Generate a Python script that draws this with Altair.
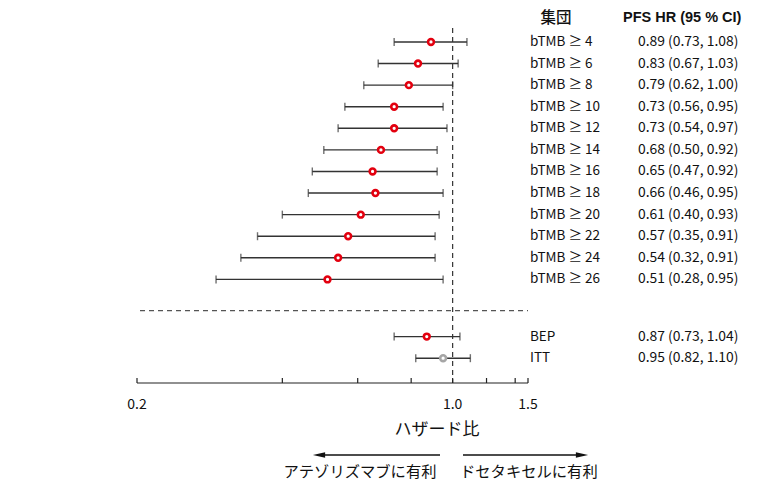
import altair as alt
import pandas as pd

groups = ["bTMB ≥ 4", "bTMB ≥ 6", "bTMB ≥ 8", "bTMB ≥ 10", "bTMB ≥ 12", "bTMB ≥ 14",
          "bTMB ≥ 16", "bTMB ≥ 18", "bTMB ≥ 20", "bTMB ≥ 22", "bTMB ≥ 24", "bTMB ≥ 26",
          "BEP", "ITT"]
hr = [0.89, 0.83, 0.79, 0.73, 0.73, 0.68, 0.65, 0.66, 0.61, 0.57, 0.54, 0.51, 0.87, 0.95]
lo = [0.73, 0.67, 0.62, 0.56, 0.54, 0.50, 0.47, 0.46, 0.40, 0.35, 0.32, 0.28, 0.73, 0.82]
hi = [1.08, 1.03, 1.00, 0.95, 0.97, 0.92, 0.92, 0.95, 0.93, 0.91, 0.91, 0.95, 1.04, 1.10]
kind = ["bTMB"] * 12 + ["BEP", "ITT"]
x_min, x_max = 0.183, 1.5
tick_values = [x_min, 0.4, 0.6, 0.8, 1.0, 1.2, 1.4, 1.5]
tick_labels = ["0.2", "", "", "", "1.0", "", "", "1.5"]

W, H = 391, 378
PAD_L, PAD_T = 137, 5
FONT = "Noto Sans CJK JP"

# row positions: bTMB rows consecutive, then a gap before BEP / ITT
rows = []
for i, g in enumerate(groups):
    pos = i if i < 12 else i + 1.65
    rows.append(dict(group=g, hr=hr[i], lo=lo[i], hi=hi[i], kind=kind[i], pos=pos,
                     label=f"{hr[i]:.2f} ({lo[i]:.2f}, {hi[i]:.2f})"))
df = pd.DataFrame(rows)

xscale = alt.Scale(type="log", domain=[x_min, x_max], nice=False, zero=False)
yscale = alt.Scale(domain=[-1.713, 15.8], reverse=True, nice=False, zero=False)
X = lambda f: alt.X(f, type="quantitative", scale=xscale, axis=None)
Y = alt.Y("pos:Q", scale=yscale, axis=None)

base = alt.Chart(df)

ci = base.mark_rule(color="#333333", strokeWidth=1.4).encode(x=X("lo"), x2="hi", y=Y)
cap_lo = base.mark_tick(orient="vertical", size=8, thickness=1.4, color="#333333").encode(x=X("lo"), y=Y)
cap_hi = base.mark_tick(orient="vertical", size=8, thickness=1.4, color="#333333").encode(x=X("hi"), y=Y)

vline = alt.Chart(pd.DataFrame({"v": [1.0]})).mark_rule(
    color="#333333", strokeWidth=1.2, strokeDash=[5, 4]
).encode(x=X("v"), y=alt.value(23), y2=alt.value(H))

hline = alt.Chart(pd.DataFrame({"p": [12.45]})).mark_rule(
    color="#555555", strokeWidth=1.2, strokeDash=[5, 4]
).encode(y=alt.Y("p:Q", scale=yscale, axis=None), x=alt.value(3), x2=alt.value(W))

points = base.mark_point(shape="circle", filled=False, fill="white", fillOpacity=1,
                         strokeWidth=2.6, size=34, opacity=1).encode(
    x=X("hr"), y=Y,
    stroke=alt.Color("kind:N", scale=alt.Scale(domain=["bTMB", "BEP", "ITT"],
                                               range=["#e3000f", "#e3000f", "#a6a6a6"]),
                     legend=None),
)

group_text = base.mark_text(align="left", baseline="middle", font=FONT, fontSize=13.5,
                            color="#111111").encode(
    x=alt.value(393), y=Y, text="group:N")
value_text = base.mark_text(align="left", baseline="middle", font=FONT, fontSize=13.9,
                            color="#111111").encode(
    x=alt.value(501), y=Y, text="label:N")

hdr1 = alt.Chart(pd.DataFrame({"t": ["集団"]})).mark_text(
    align="center", baseline="middle", font=FONT, fontSize=15.5, fontWeight=500, color="#111111"
).encode(x=alt.value(419), y=alt.value(13), text="t:N")
hdr2 = alt.Chart(pd.DataFrame({"t": ["PFS HR (95 % CI)"]})).mark_text(
    align="left", baseline="middle", font="Liberation Sans", fontSize=14.5, fontWeight="bold",
    color="#111111"
).encode(x=alt.value(486), y=alt.value(13), text="t:N")

# axis
tick_df = pd.DataFrame({"v": tick_values, "lab": tick_labels})
axis_line = alt.Chart(pd.DataFrame({"a": [0]})).mark_rule(color="#222222", strokeWidth=1.2).encode(
    x=alt.value(0), x2=alt.value(W), y=alt.value(H))
ticks = alt.Chart(tick_df).mark_rule(color="#222222", strokeWidth=1.2).encode(
    x=X("v"), y=alt.value(H - 5), y2=alt.value(H))
tick_text = alt.Chart(tick_df).mark_text(baseline="middle", align="center", font=FONT,
                                          fontSize=14, color="#111111").encode(
    x=X("v"), y=alt.value(H + 22), text="lab:N")
xtitle = alt.Chart(pd.DataFrame({"t": ["ハザード比"]})).mark_text(
    baseline="middle", align="center", font=FONT, fontSize=17, color="#111111"
).encode(x=alt.value(300), y=alt.value(H + 47), text="t:N")

# favour arrows
arrow_y = H + 72
left_line = alt.Chart(pd.DataFrame({"a": [0]})).mark_rule(color="#111111", strokeWidth=1.3).encode(
    x=alt.value(181), x2=alt.value(303), y=alt.value(arrow_y))
right_line = alt.Chart(pd.DataFrame({"a": [0]})).mark_rule(color="#111111", strokeWidth=1.3).encode(
    x=alt.value(326), x2=alt.value(445), y=alt.value(arrow_y))
left_head = alt.Chart(pd.DataFrame({"a": [0]})).mark_point(
    shape="M-1,0L1,-0.45L1,0.45Z", filled=True, color="#111111", size=150, opacity=1
).encode(x=alt.value(182), y=alt.value(arrow_y))
right_head = alt.Chart(pd.DataFrame({"a": [0]})).mark_point(
    shape="M1,0L-1,-0.45L-1,0.45Z", filled=True, color="#111111", size=150, opacity=1
).encode(x=alt.value(445), y=alt.value(arrow_y))
left_lab = alt.Chart(pd.DataFrame({"t": ["アテゾリズマブに有利"]})).mark_text(
    baseline="middle", align="center", font=FONT, fontSize=15.3, color="#111111"
).encode(x=alt.value(223), y=alt.value(arrow_y + 17), text="t:N")
right_lab = alt.Chart(pd.DataFrame({"t": ["ドセタキセルに有利"]})).mark_text(
    baseline="middle", align="left", font=FONT, fontSize=15.3, color="#111111"
).encode(x=alt.value(323), y=alt.value(arrow_y + 17), text="t:N")

chart = alt.layer(
    vline, hline, ci, cap_lo, cap_hi, points, group_text, value_text, hdr1, hdr2,
    axis_line, ticks, tick_text, xtitle, left_line, right_line, left_head, right_head,
    left_lab, right_lab
).properties(
    width=W, height=H,
    autosize=alt.AutoSizeParams(type="none"),
    padding={"left": PAD_L, "top": PAD_T, "right": 764 - PAD_L - W, "bottom": 482 - PAD_T - H},
).configure_view(stroke=None, clip=False)

chart.save("out.html", embed_options={"renderer": "svg", "actions": False})
